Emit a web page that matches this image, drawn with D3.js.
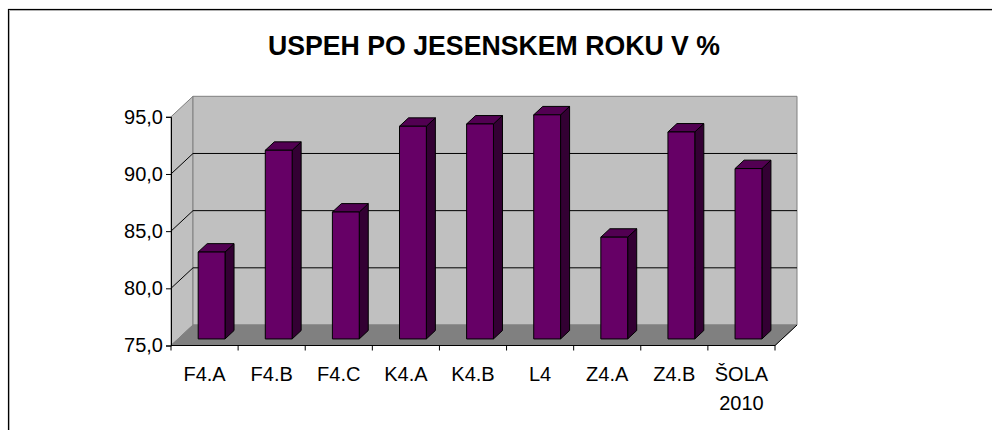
<!DOCTYPE html>
<html>
<head>
<meta charset="utf-8">
<script src="https://cdn.jsdelivr.net/npm/d3@7"></script>
<style>
  html, body { margin: 0; padding: 0; background: #fff; }
  svg { display: block; font-family: "Liberation Sans", Arial, sans-serif; }
</style>
</head>
<body>
<svg id="chart" width="992" height="430"></svg>
<script>
// Class results after the autumn exam period (percent)
const categories = ["F4.A", "F4.B", "F4.C", "K4.A", "K4.B", "L4", "Z4.A", "Z4.B", "ŠOLA 2010"];
const values = [82.6, 91.5, 86.1, 93.6, 93.8, 94.6, 83.9, 93.1, 89.9];
const yTicks = [75, 80, 85, 90, 95];
const title = "USPEH PO JESENSKEM ROKU V %";

const svg = d3.select("#chart");

// outer frame (only top and left edges fall inside the view)
svg.append("rect").attr("x", 8.5).attr("y", 9.5).attr("width", 1200).attr("height", 800)
  .attr("fill", "none").attr("stroke", "#000").attr("stroke-width", 1.2);
svg.append("path").attr("d", "M9.5,600V10.5H1200").attr("fill", "none").attr("stroke", "#b0b0b0");

svg.append("text").attr("x", 494).attr("y", 55).attr("text-anchor", "middle")
  .attr("font-size", 28).attr("font-weight", "bold")
  .attr("textLength", 452).attr("lengthAdjust", "spacingAndGlyphs")
  .text(title);

// 3D box geometry: front plane plus depth offset
const x0 = 171, x1 = 775;
const DX = 22, DY = 20.5;
const x = d3.scaleBand().domain(categories).range([x0, x1]).paddingInner(0.6).paddingOuter(0.3);
const y = d3.scaleLinear().domain([75, 95]).range([345.5, 116.8]);
const P = (px, v, z) => [px + z * DX, y(v) - z * DY];
const poly = pts => "M" + pts.map(p => p.join(",")).join("L") + "Z";

const yMin = y.domain()[0], yMax = y.domain()[1];

// side wall
svg.append("path").attr("d", poly([P(x0, yMin, 0), P(x0, yMax, 0), P(x0, yMax, 1), P(x0, yMin, 1)]))
  .attr("fill", "#c0c0c0").attr("stroke", "#808080");
// back wall
svg.append("path").attr("d", poly([P(x0, yMin, 1), P(x0, yMax, 1), P(x1, yMax, 1), P(x1, yMin, 1)]))
  .attr("fill", "#c0c0c0").attr("stroke", "#808080");
// floor
svg.append("path").attr("d", poly([P(x0, yMin, 0), P(x1, yMin, 0), P(x1, yMin, 1), P(x0, yMin, 1)]))
  .attr("fill", "#808080").attr("stroke", "#808080");

// gridlines across side and back walls
const grid = yTicks.filter(t => t > yMin && t < yMax);
svg.append("g").selectAll("path").data(grid).join("path")
  .attr("d", t => "M" + P(x0, t, 0).join(",") + "L" + P(x0, t, 1).join(",") + "L" + P(x1, t, 1).join(","))
  .attr("fill", "none").attr("stroke", "#000").attr("stroke-width", 1);

// floor front edge and right diagonal
svg.append("path")
  .attr("d", "M" + P(x0, yMin, 0).join(",") + "L" + P(x1, yMin, 0).join(",") + "L" + P(x1, yMin, 1).join(","))
  .attr("fill", "none").attr("stroke", "#000");

// bars
const zf = 0.32, zb = 0.73;
const bw = x.bandwidth();
const bars = svg.append("g").selectAll("g").data(categories.map((c, i) => ({ c, v: values[i] }))).join("g")
  .attr("stroke", "#000").attr("stroke-width", 1).attr("stroke-linejoin", "round");
bars.append("path").attr("d", d => {
  const l = x(d.c), r = l + bw;
  return poly([P(r, yMin, zf), P(r, d.v, zf), P(r, d.v, zb), P(r, yMin, zb)]);
}).attr("fill", "#330033");
bars.append("path").attr("d", d => {
  const l = x(d.c), r = l + bw;
  return poly([P(l, d.v, zf), P(r, d.v, zf), P(r, d.v, zb), P(l, d.v, zb)]);
}).attr("fill", "#520052");
bars.append("path").attr("d", d => {
  const l = x(d.c), r = l + bw;
  return poly([P(l, yMin, zf), P(l, d.v, zf), P(r, d.v, zf), P(r, yMin, zf)]);
}).attr("fill", "#660066");

// value axis on the front plane
const fmt = d3.format(".1f");
const yAxis = svg.append("g").attr("transform", `translate(${x0},0)`)
  .call(d3.axisLeft(y).tickValues(yTicks).tickSize(5).tickPadding(3).tickFormat(d => fmt(d).replace(".", ",")));
yAxis.select(".domain").attr("stroke", "#000");
yAxis.selectAll("line").attr("stroke", "#000");
yAxis.selectAll("text").attr("font-size", 20).attr("fill", "#000").attr("font-family", "Liberation Sans, Arial, sans-serif");

// category axis: boundary ticks plus centred labels
const step = x.step();
const bounds = d3.range(categories.length + 1).map(i => x0 + i * (x1 - x0) / categories.length);
svg.append("g").selectAll("line").data(bounds).join("line")
  .attr("x1", d => d).attr("x2", d => d).attr("y1", y(yMin)).attr("y2", y(yMin) + 5)
  .attr("stroke", "#000");

const xAxis = svg.append("g").attr("transform", `translate(0,${y(yMin)})`)
  .call(d3.axisBottom(x).tickSize(0).tickPadding(0));
xAxis.select(".domain").remove();
xAxis.selectAll(".tick text").each(function (d) {
  const t = d3.select(this).text(null).attr("font-size", 20).attr("fill", "#000")
    .attr("font-family", "Liberation Sans, Arial, sans-serif").attr("dy", null).attr("y", 0);
  const parts = d.split(" ");
  parts.forEach((p, i) => t.append("tspan").attr("x", 0).attr("y", 35 + i * 29).text(p));
});
</script>
</body>
</html>
